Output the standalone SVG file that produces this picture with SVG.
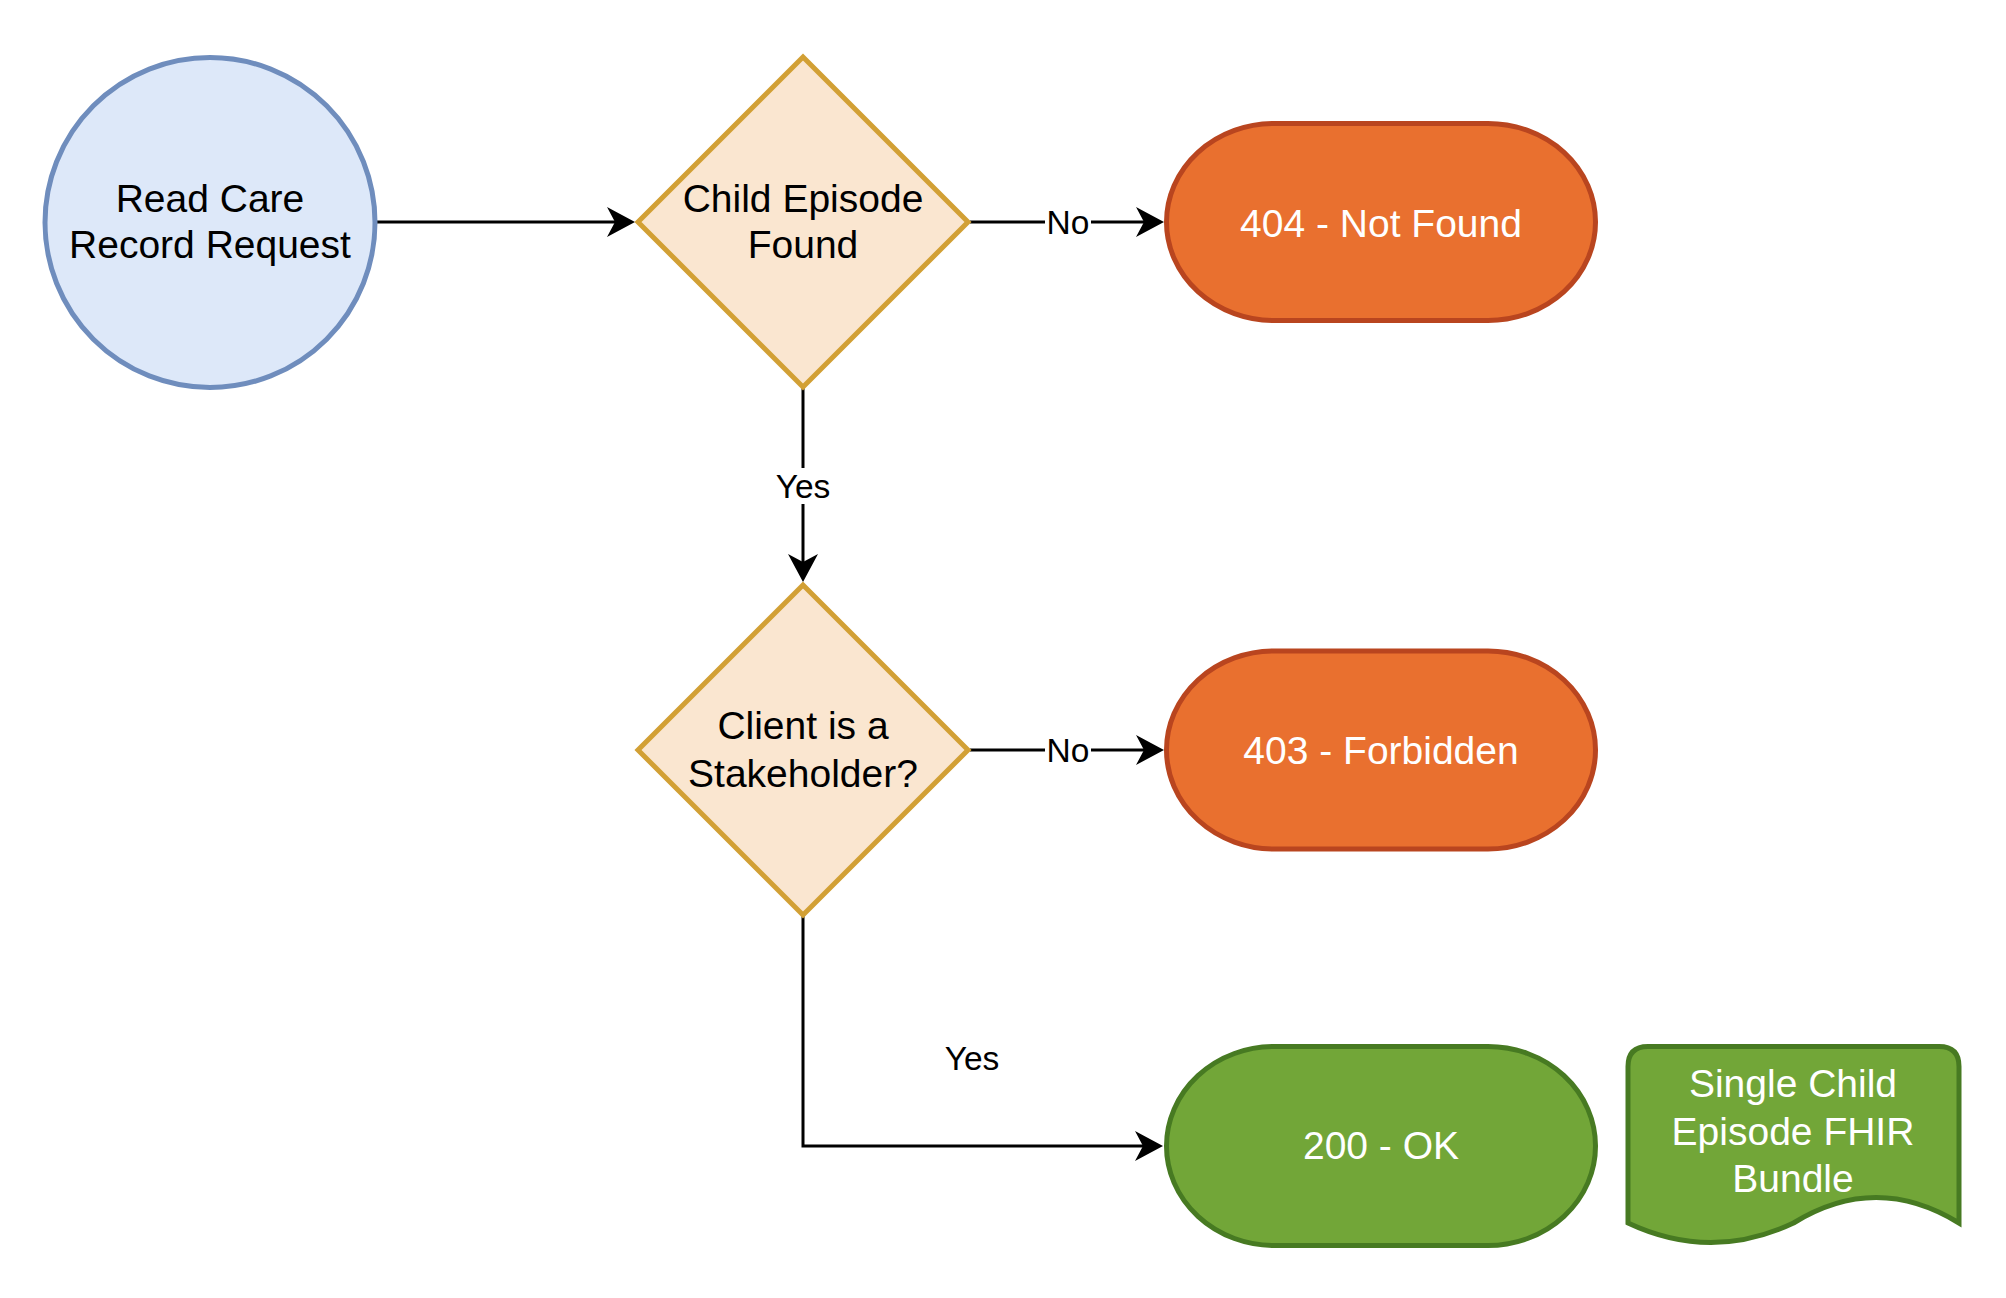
<svg xmlns="http://www.w3.org/2000/svg" width="2006" height="1298" viewBox="0 0 2006 1298">
<defs>
<style>
.t{font-family:"Liberation Sans",Arial,Helvetica,sans-serif;font-size:39px;text-anchor:middle;fill:#000}
.w{fill:#fff}
.el{font-family:"Liberation Sans",Arial,Helvetica,sans-serif;font-size:33.5px;text-anchor:middle;fill:#000}
.edge{fill:none;stroke:#000;stroke-width:3}
.dia{fill:#fae6d0;stroke:#d2a035;stroke-width:5}
.red{fill:#e9702f;stroke:#b9451f;stroke-width:5}
.grn{fill:#72a638;stroke:#477a22;stroke-width:5}
</style>
<marker id="arr" markerUnits="userSpaceOnUse" viewBox="-10 -16 32 32" refX="0" refY="0" markerWidth="32" markerHeight="32" orient="auto">
<path d="M20,0 L-8,-15 L0,0 L-8,15 Z" fill="#000"/>
</marker>
</defs>
<rect width="2006" height="1298" fill="#fff"/>
<g id="connectors">
<path class="edge" d="M375,222 L615,222" marker-end="url(#arr)"/>
<path class="edge" d="M970,222 L1144,222" marker-end="url(#arr)"/>
<path class="edge" d="M803,388 L803,562" marker-end="url(#arr)"/>
<path class="edge" d="M970,750 L1144,750" marker-end="url(#arr)"/>
<path class="edge" d="M803,916 L803,1146 L1143,1146" marker-end="url(#arr)"/>
<rect x="1045" y="204" width="46" height="36" fill="#fff"/>
<text class="el" x="1068" y="234">No</text>
<rect x="772" y="468" width="62" height="36" fill="#fff"/>
<text class="el" x="803" y="498">Yes</text>
<rect x="1045" y="732" width="46" height="36" fill="#fff"/>
<text class="el" x="1068" y="762">No</text>
<text class="el" x="972" y="1070">Yes</text>
</g>
<g id="start">
<circle cx="210" cy="222.5" r="165" fill="#dde8f9" stroke="#6f8dbd" stroke-width="5"/>
<text class="t" x="210" y="212">Read Care</text>
<text class="t" x="210" y="258">Record Request</text>
</g>
<g id="decision1">
<path class="dia" d="M803,57 L968,222 L803,387 L638,222 Z"/>
<text class="t" x="803" y="212">Child Episode</text>
<text class="t" x="803" y="258">Found</text>
</g>
<g id="notfound">
<path class="red" d="M1274,123.5 L1488,123.5 A107.5,98.5 0 0 1 1488,320.5 L1274,320.5 A107.5,98.5 0 0 1 1274,123.5 Z"/>
<text class="t w" x="1381" y="236.5">404 - Not Found</text>
</g>
<g id="decision2">
<path class="dia" d="M803,585 L968,750 L803,915 L638,750 Z"/>
<text class="t" x="803" y="738.5">Client is a</text>
<text class="t" x="803" y="786.5">Stakeholder?</text>
</g>
<g id="forbidden">
<path class="red" d="M1274,651 L1488,651 A107.5,99 0 0 1 1488,849 L1274,849 A107.5,99 0 0 1 1274,651 Z"/>
<text class="t w" x="1381" y="764">403 - Forbidden</text>
</g>
<g id="ok">
<path class="grn" d="M1274,1046.5 L1488,1046.5 A107.5,99.5 0 0 1 1488,1245.5 L1274,1245.5 A107.5,99.5 0 0 1 1274,1046.5 Z"/>
<text class="t w" x="1381" y="1159">200 - OK</text>
</g>
<g id="bundle">
<path class="grn" d="M1648,1046.5 L1939,1046.5 Q1959,1046.5 1959,1066.5 L1959,1223 Q1876,1172 1793.5,1223 Q1711,1262 1628,1223 L1628,1066.5 Q1628,1046.5 1648,1046.5 Z"/>
<text class="t w" x="1793" y="1097">Single Child</text>
<text class="t w" x="1793" y="1145">Episode FHIR</text>
<text class="t w" x="1793" y="1192">Bundle</text>
</g>
</svg>
